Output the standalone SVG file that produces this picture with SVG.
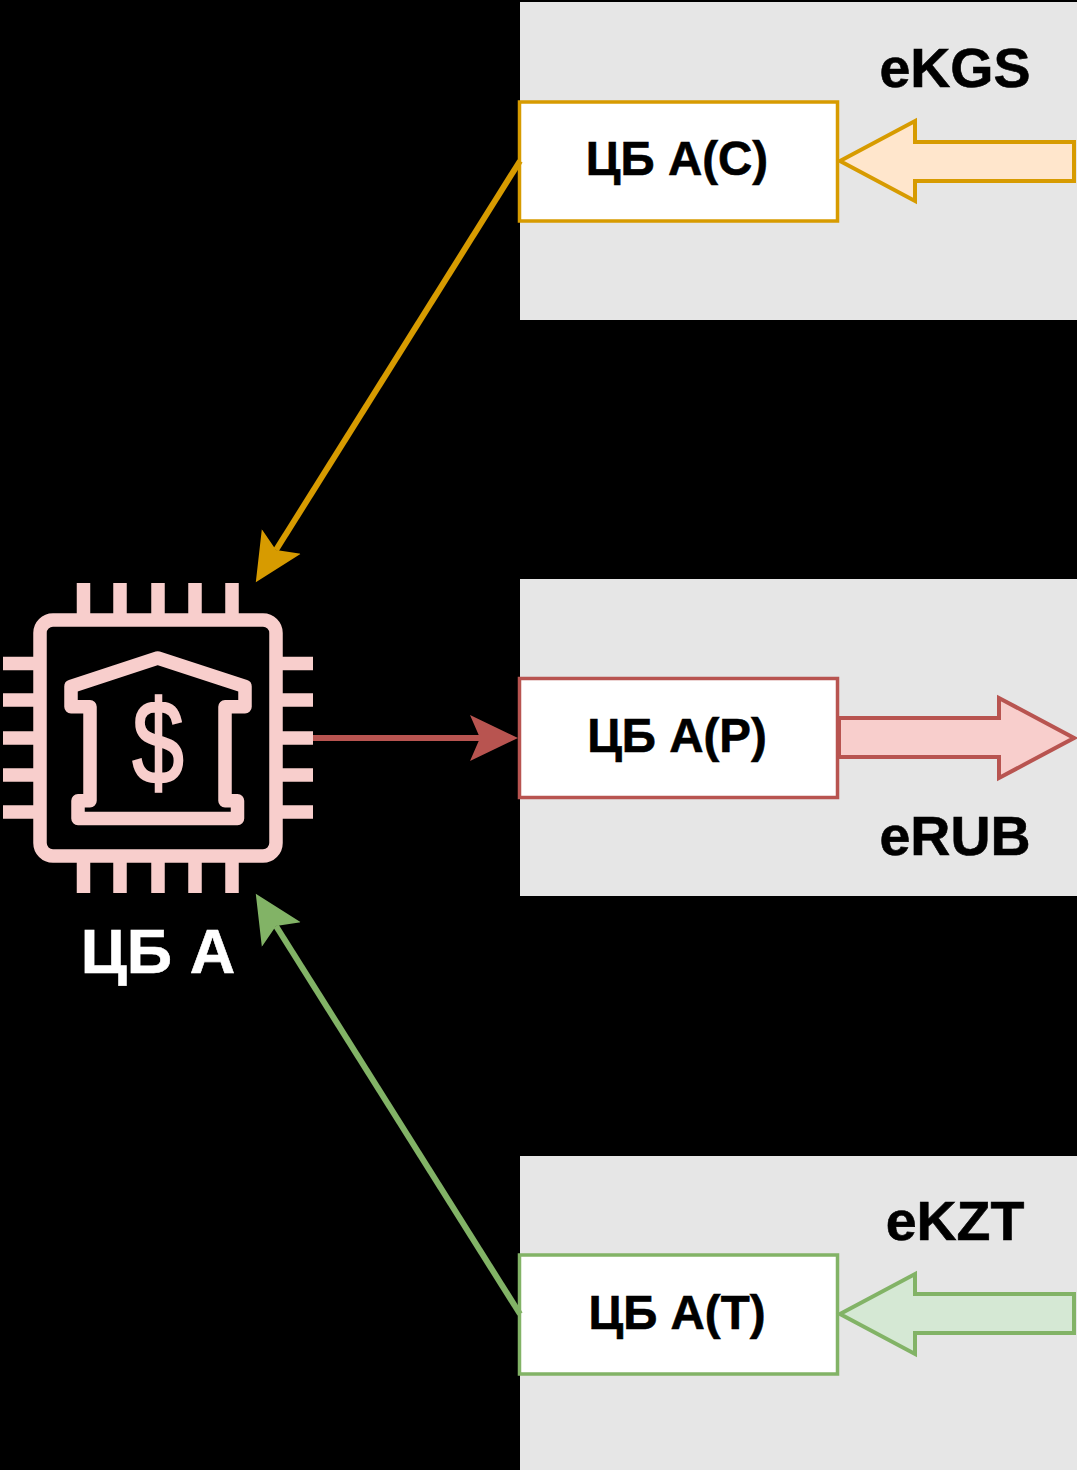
<svg xmlns="http://www.w3.org/2000/svg" width="1077" height="1470" viewBox="0 0 1077 1470">
<style>
.zone{fill:#e6e6e6}
.box{fill:#fff;stroke-width:3.5}
.t{font-family:"Liberation Sans",Arial,sans-serif;font-weight:700;text-anchor:middle;fill:#000;stroke:#000;stroke-width:.6}
.bl{font-size:47.500px}
.cur{font-size:55.500px}
.wire{fill:none;stroke-width:6}
.flow{stroke-width:4}
.o{stroke:#d79b00}.r{stroke:#b85450}.g{stroke:#82b366}
.pins{stroke:#f8cecc;stroke-width:13.5;fill:none}
.chip{fill:none;stroke:#f8cecc;stroke-width:13.5;stroke-linejoin:round}
</style>
<defs>
<marker id="mo" markerUnits="userSpaceOnUse" markerWidth="50" markerHeight="50" viewBox="0 -25 50 50" refX="10" refY="0" orient="auto"><path d="M0-23L48 0L0 23L10 0Z" fill="#d79b00"/></marker>
<marker id="mr" markerUnits="userSpaceOnUse" markerWidth="50" markerHeight="50" viewBox="0 -25 50 50" refX="10" refY="0" orient="auto"><path d="M0-23L48 0L0 23L10 0Z" fill="#b85450"/></marker>
<marker id="mg" markerUnits="userSpaceOnUse" markerWidth="50" markerHeight="50" viewBox="0 -25 50 50" refX="10" refY="0" orient="auto"><path d="M0-23L48 0L0 23L10 0Z" fill="#82b366"/></marker>
</defs>
<rect width="1077" height="1470" fill="#000"/>
<rect class="zone" x="520" y="2" width="557" height="318"/>
<rect class="zone" x="520" y="579" width="557" height="317"/>
<rect class="zone" x="520" y="1156" width="557" height="314"/>
<g id="cb-a">
<rect class="chip" x="40" y="620" width="236" height="236" rx="13"/>
<path class="pins" d="M83.500 583V616M120 583V616M158 583V616M195 583V616M232 583V616M83.500 860V893M120 860V893M158 860V893M195 860V893M232 860V893M3 663.500H36M3 700H36M3 738H36M3 775H36M3 812H36M280 663.500H313M280 700H313M280 738H313M280 775H313M280 812H313"/>
<path class="chip" d="M157.700 658L71 686.500V706.700H90V800.700H78V818.500H237.500V800.700H225V706.700H245V686.500Z"/>
<text transform="translate(158 783) scale(.9 1.15)" font-family="Liberation Sans,Arial,sans-serif" font-size="103" text-anchor="middle" fill="#f8cecc" stroke="#f8cecc" stroke-width="2">$</text>
<text class="t" x="158" y="973" font-size="63" style="fill:#fff;stroke:#fff">ЦБ А</text>
</g>
<g id="cb-ac">
<rect class="box o" x="519.500" y="102" width="318" height="119"/>
<text class="t bl" x="677" y="175">ЦБ А(С)</text>
</g>
<g id="cb-ap">
<rect class="box r" x="519.500" y="678.500" width="318" height="119"/>
<text class="t bl" x="677" y="751.500">ЦБ А(Р)</text>
</g>
<g id="cb-at">
<rect class="box g" x="519.500" y="1255" width="318" height="119"/>
<text class="t bl" x="677" y="1328.500">ЦБ А(Т)</text>
</g>
<g id="ekgs"><text class="t cur" x="955" y="87">eKGS</text></g>
<g id="erub"><text class="t cur" x="955" y="855">eRUB</text></g>
<g id="ekzt"><text class="t cur" x="955" y="1240">eKZT</text></g>
<g id="connectors">
<path class="wire o" d="M520 161L276 550" marker-end="url(#mo)"/>
<path class="wire r" d="M313 738H480" marker-end="url(#mr)"/>
<path class="wire g" d="M520 1314L276 926" marker-end="url(#mg)"/>
<path class="flow o" fill="#ffe6cc" d="M1074 142V181H915V201L840 161L915 121V142Z"/>
<path class="flow r" fill="#f8cecc" d="M839 718H999V698L1074 738L999 778V757H839Z"/>
<path class="flow g" fill="#d5e8d4" d="M1074 1294V1333H915V1354L840 1314L915 1274V1294Z"/>
</g>
</svg>
